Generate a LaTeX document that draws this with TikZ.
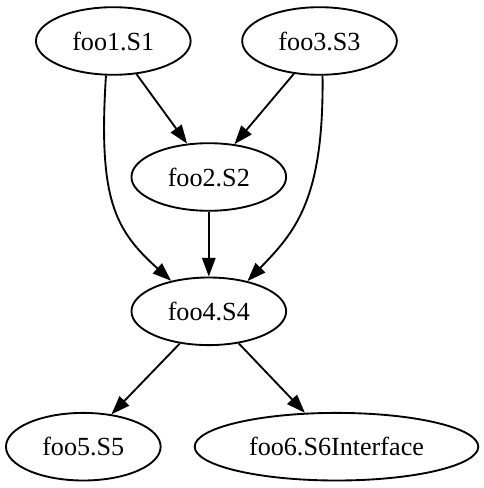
\documentclass[tikz,border=0pt]{standalone}
\usepackage{fontspec}
\setmainfont{Liberation Serif}
\usetikzlibrary{shapes.geometric,arrows.meta}
\begin{document}
\begin{tikzpicture}[x=0.75pt,y=-0.75pt,
  ell/.style={ellipse,draw,line width=1.4pt,inner sep=0pt,minimum width=116pt,minimum height=50.7pt,font=\fontsize{19.6}{24}\selectfont},
  edge/.style={line width=1.4pt,-{Triangle[length=14pt,width=10pt]}}]
\useasboundingbox (0,0) rectangle (484,488);
\node[ell] (foo1) at (113.3,41) {foo1.S1};
\node[ell] (foo3) at (319.5,41) {foo3.S3};
\node[ell] (foo2) at (208.8,177) {foo2.S2};
\node[ell] (foo4) at (208.8,311.3) {foo4.S4};
\node[ell] (foo5) at (83.3,446.7) {foo5.S5};
\node[ell,minimum width=212.7pt] (foo6) at (336.5,446.7) {foo6.S6Interface};
\draw[edge] (foo1.-55) -- (foo2.123);
\draw[edge] (foo3.-128.5) -- (foo2.52.4);
\draw[edge] (foo2.south) -- (foo4.north);
\draw[edge] (foo1.-102) .. controls (98,200) and (115,230) .. (foo4.141.5);
\draw[edge] (foo3.-85.3) .. controls (324,200) and (295,232) .. (foo4.38.3);
\draw[edge] (foo4.-132) -- (foo5.49.5);
\draw[edge] (foo4.-47.3) -- (foo6.133.3);
\end{tikzpicture}
\end{document}
